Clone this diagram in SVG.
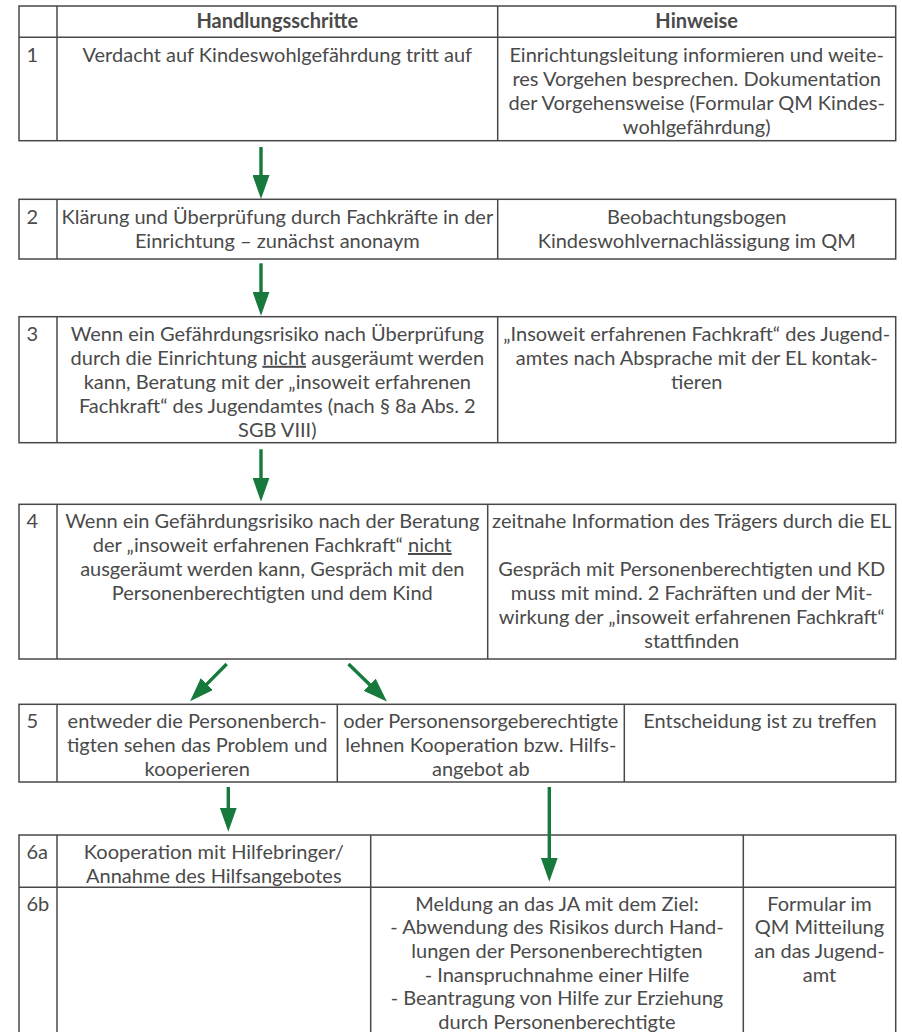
<svg xmlns="http://www.w3.org/2000/svg" width="902" height="1032" viewBox="0 0 902 1032">
<defs>
<style>
.cell{fill:#ffffff;stroke:#484848;stroke-width:1.5}
.ln{stroke:#484848;stroke-width:1.5}
text{font-family:Lato,"Open Sans","Liberation Sans",sans-serif;font-size:20px;fill:#4a4a4a}
.c{text-anchor:middle}
.b{font-weight:bold}
.arr{stroke:#177a3c;stroke-width:3.4;fill:none;marker-end:url(#ah)}
</style>
<marker id="ah" markerUnits="userSpaceOnUse" markerWidth="24" markerHeight="17" refX="4" refY="8.5" orient="auto" viewBox="0 0 24 17">
<path d="M0,0 L24,8.5 L0,17 Z" fill="#177a3c"/>
</marker>
</defs>
<rect width="902" height="1032" fill="#ffffff"/>

<g id="row-header-1">
<rect class="cell" x="19" y="6" width="876.7" height="134.7"/>
<line class="ln" x1="19" y1="37.3" x2="895.7" y2="37.3"/>
<line class="ln" x1="57" y1="6" x2="57" y2="140.7"/>
<line class="ln" x1="497.7" y1="6" x2="497.7" y2="140.7"/>
<text class="c b" x="277.3" y="27.5">Handlungsschritte</text>
<text class="c b" x="696.7" y="27.5">Hinweise</text>
<text x="26.5" y="61.5">1</text>
<text class="c" x="277.3" y="61.5">Verdacht auf Kindeswohlgefährdung tritt auf</text>
<text class="c" x="696.7" y="61.5">Einrichtungsleitung informieren und weite-</text>
<text class="c" x="696.7" y="85.5">res Vorgehen besprechen. Dokumentation</text>
<text class="c" x="696.7" y="109.5">der Vorgehensweise (Formular QM Kindes-</text>
<text class="c" x="696.7" y="133.5">wohlgefährdung)</text>
</g>

<g id="row-2">
<rect class="cell" x="19" y="199.3" width="876.7" height="59.7"/>
<line class="ln" x1="57" y1="199.3" x2="57" y2="259"/>
<line class="ln" x1="497.7" y1="199.3" x2="497.7" y2="259"/>
<text x="26.5" y="223.5">2</text>
<text class="c" x="277.3" y="223.5">Klärung und Überprüfung durch Fachkräfte in der</text>
<text class="c" x="277.3" y="247.5">Einrichtung – zunächst anonaym</text>
<text class="c" x="696.7" y="223.5">Beobachtungsbogen</text>
<text class="c" x="696.7" y="247.5">Kindeswohlvernachlässigung im QM</text>
</g>

<g id="row-3">
<rect class="cell" x="19" y="316.7" width="876.7" height="126"/>
<line class="ln" x1="57" y1="316.7" x2="57" y2="442.7"/>
<line class="ln" x1="497.7" y1="316.7" x2="497.7" y2="442.7"/>
<text x="26.5" y="340.8">3</text>
<text class="c" x="277.3" y="340.8">Wenn ein Gefährdungsrisiko nach Überprüfung</text>
<text class="c" x="277.3" y="364.8">durch die Einrichtung <tspan text-decoration="underline">nicht</tspan> ausgeräumt werden</text>
<text class="c" x="277.3" y="388.8">kann, Beratung mit der „insoweit erfahrenen</text>
<text class="c" x="277.3" y="412.8">Fachkraft“ des Jugendamtes (nach § 8a Abs. 2</text>
<text class="c" x="277.3" y="436.8">SGB VIII)</text>
<text class="c" x="696.7" y="340.8">„Insoweit erfahrenen Fachkraft“ des Jugend-</text>
<text class="c" x="696.7" y="364.8">amtes nach Absprache mit der EL kontak-</text>
<text class="c" x="696.7" y="388.8">tieren</text>
</g>

<g id="row-4">
<rect class="cell" x="19" y="504.3" width="876.7" height="154.7"/>
<line class="ln" x1="57" y1="504.3" x2="57" y2="659"/>
<line class="ln" x1="487.7" y1="504.3" x2="487.7" y2="659"/>
<text x="26.5" y="528">4</text>
<text class="c" x="272.3" y="528">Wenn ein Gefährdungsrisiko nach der Beratung</text>
<text class="c" x="272.3" y="552">der „insoweit erfahrenen Fachkraft“ <tspan text-decoration="underline">nicht</tspan></text>
<text class="c" x="272.3" y="576">ausgeräumt werden kann, Gespräch mit den</text>
<text class="c" x="272.3" y="600">Personenberechtigten und dem Kind</text>
<text class="c" x="691.7" y="528">zeitnahe Information des Trägers durch die EL</text>
<text class="c" x="691.7" y="576">Gespräch mit Personenberechtigten und KD</text>
<text class="c" x="691.7" y="600">muss mit mind. 2 Fachräften und der Mit-</text>
<text class="c" x="691.7" y="624">wirkung der „insoweit erfahrenen Fachkraft“</text>
<text class="c" x="691.7" y="648">stattfinden</text>
</g>

<g id="row-5">
<rect class="cell" x="19" y="704.3" width="876.7" height="77.7"/>
<line class="ln" x1="57" y1="704.3" x2="57" y2="782"/>
<line class="ln" x1="337.3" y1="704.3" x2="337.3" y2="782"/>
<line class="ln" x1="624.3" y1="704.3" x2="624.3" y2="782"/>
<text x="26.5" y="727.5">5</text>
<text class="c" x="197.2" y="727.5">entweder die Personenberch-</text>
<text class="c" x="197.2" y="751.5">tigten sehen das Problem und</text>
<text class="c" x="197.2" y="775.5">kooperieren</text>
<text class="c" x="480.8" y="727.5">oder Personensorgeberechtigte</text>
<text class="c" x="480.8" y="751.5">lehnen Kooperation bzw. Hilfs-</text>
<text class="c" x="480.8" y="775.5">angebot ab</text>
<text class="c" x="760" y="727.5">Entscheidung ist zu treffen</text>
</g>

<g id="row-6">
<rect class="cell" x="19" y="835" width="876.7" height="210"/>
<line class="ln" x1="19" y1="887.3" x2="895.7" y2="887.3"/>
<line class="ln" x1="57" y1="835" x2="57" y2="1045"/>
<line class="ln" x1="370.7" y1="835" x2="370.7" y2="1045"/>
<line class="ln" x1="743.3" y1="835" x2="743.3" y2="1045"/>
<text x="26.5" y="858.5">6a</text>
<text class="c" x="213.8" y="858.5">Kooperation mit Hilfebringer/</text>
<text class="c" x="213.8" y="882.5">Annahme des Hilfsangebotes</text>
<text x="26.5" y="910.8">6b</text>
<text class="c" x="557" y="910.8">Meldung an das JA mit dem Ziel:</text>
<text class="c" x="557" y="934.4">- Abwendung des Risikos durch Hand-</text>
<text class="c" x="557" y="958">lungen der Personenberechtigten</text>
<text class="c" x="557" y="981.6">- Inanspruchnahme einer Hilfe</text>
<text class="c" x="557" y="1005.2">- Beantragung von Hilfe zur Erziehung</text>
<text class="c" x="557" y="1028.8">durch Personenberechtigte</text>
<text class="c" x="819.5" y="910.8">Formular im</text>
<text class="c" x="819.5" y="934.4">QM Mitteilung</text>
<text class="c" x="819.5" y="958">an das Jugend-</text>
<text class="c" x="819.5" y="981.6">amt</text>
</g>

<g id="connectors">
<line class="arr" x1="261" y1="147" x2="261" y2="179"/>
<line class="arr" x1="261" y1="263.3" x2="261" y2="295.7"/>
<line class="arr" x1="261" y1="449.3" x2="261" y2="481.7"/>
<line class="arr" x1="226.7" y1="664" x2="204.1" y2="686.9"/>
<line class="arr" x1="348.5" y1="664" x2="372.6" y2="687.5"/>
<line class="arr" x1="228.3" y1="787" x2="228.3" y2="811.7"/>
<line class="arr" x1="549.3" y1="787" x2="549.3" y2="861.7"/>
</g>
</svg>
